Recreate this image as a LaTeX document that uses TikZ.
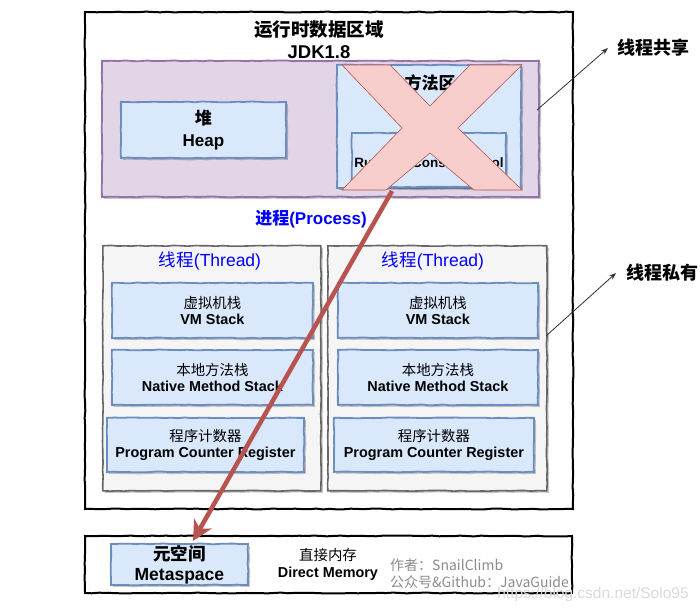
\documentclass[tikz,border=0pt]{standalone}
\usepackage{fontspec}
\setmainfont{Liberation Sans}
\newfontfamily\cjk{Noto Sans CJK SC}
\usetikzlibrary{arrows.meta,decorations.pathmorphing,shadows,calc}
\definecolor{blueF}{HTML}{DAE8FC}
\definecolor{blueD}{HTML}{6C8EBF}
\definecolor{purF}{HTML}{E1D5E7}
\definecolor{purD}{HTML}{9673A6}
\definecolor{grayF}{HTML}{F5F5F5}
\definecolor{grayD}{HTML}{666666}
\definecolor{redF}{HTML}{F8CECC}
\definecolor{redD}{HTML}{B85450}
\definecolor{procBlue}{HTML}{0000FF}
\definecolor{noteGray}{HTML}{8C8C8C}
\definecolor{markGray}{HTML}{DADADA}
\newcommand{\cn}[1]{{\cjk #1}}
\newcommand{\fs}[1]{\fontsize{#1}{#1}\selectfont}
\pgfmathsetseed{7}
\tikzset{
  sketch/.style={decorate, decoration={random steps, segment length=7pt, amplitude=0.4pt}},
  shad/.style={drop shadow={shadow xshift=2pt, shadow yshift=-2pt, opacity=0.22, fill=black}},
  frame/.style={draw=black, line width=2pt, fill=white, sketch, anchor=north west, inner sep=0pt},
  bluebox/.style={draw=blueD, fill=blueF, line width=1.8pt, sketch, shad, anchor=north west,
    inner sep=0pt, align=center, font=\fontsize{14.4}{16.5}\selectfont},
  threadbox/.style={draw=grayD, fill=grayF, line width=1.6pt, sketch, shad, anchor=north west, inner sep=0pt},
  sharedbox/.style={draw=purD, fill=purF, line width=1.8pt, sketch, shad, anchor=north west, inner sep=0pt},
  txt/.style={inner sep=0pt, align=center},
  bluetitle/.style={txt, text=procBlue, font=\bfseries\fs{17}},
  sidelabel/.style={inner sep=0pt, anchor=west, font=\bfseries\fs{18}},
  pointer/.style={draw=black!80, line width=0.8pt, -{Stealth[length=7pt,width=5pt]}},
  migrate/.style={draw=redD, line width=4.5pt, -{Stealth[length=20pt,width=20pt,inset=6pt]}},
  note/.style={inner sep=0pt, anchor=west, text=noteGray, font=\cjk\fs{14}}
}
\begin{document}
\begin{tikzpicture}[x=1pt,y=-1pt]
\useasboundingbox (0,0) rectangle (700,612);
\fill[white] (0,0) rectangle (700,612);

% outer frame
\node[frame, minimum width=488pt, minimum height=497pt] (outer) at (84,11) {};
\node[txt, font=\bfseries\fontsize{18.5}{22}\selectfont] (title) at (319,40) {\cn{\bfseries 运行时数据区域}\\JDK1.8};

% shared area
\node[sharedbox, minimum width=437pt, minimum height=136pt] (shared) at (101,60) {};
\node[bluebox, minimum width=165pt, minimum height=56pt, font=\bfseries\fontsize{17}{22}\selectfont] (heap) at (120,101) {\cn{\bfseries 堆}\\Heap};
\node[bluebox, minimum width=184pt, minimum height=123pt] (method) at (336,64) {};
\node[txt, font=\bfseries\fs{17}] (methodtxt) at (430,83) {\cn{\bfseries 方法区}};
\node[bluebox, minimum width=154pt, minimum height=54pt] (rcp) at (351,132) {};
\node[txt, font=\bfseries\fs{13.5}] (rcptxt) at (429,163) {Runtime Constant Pool};

% the cross
\filldraw[fill=redF, draw=redD, line width=0.6pt]
  (342,65) -- (390,65) -- (430,106) -- (470,65) -- (522,65) -- (458,128)
  -- (522,190) -- (474,190) -- (430,153) -- (386,190) -- (342,190) -- (402,128) -- cycle;
\coordinate (xs) at (392,191);

% process label
\node[bluetitle] (proc) at (311,219) {\cn{\bfseries 进程}(Process)};

% threads
\node[threadbox, minimum width=218pt, minimum height=245pt] (tl) at (102,245) {};
\node[threadbox, minimum width=219pt, minimum height=245pt] (tr) at (327,245) {};
\node[bluetitle, font=\fs{17.5}] (tlt) at (210,261) {\cn{线程}(Thread)};
\node[bluetitle, font=\fs{17.5}] (trt) at (433,261) {\cn{线程}(Thread)};

\node[bluebox, minimum width=201pt, minimum height=55pt] (vml) at (111,282) {\cn{虚拟机栈}\\\textbf{VM Stack}};
\node[bluebox, minimum width=201pt, minimum height=55pt] (nml) at (111,349) {\cn{本地方法栈}\\\textbf{Native Method Stack}};
\node[bluebox, minimum width=197pt, minimum height=54pt] (pcl) at (106,417) {\cn{程序计数器}\\\textbf{Program Counter Register}};

\node[bluebox, minimum width=200pt, minimum height=55pt] (vmr) at (337,282) {\cn{虚拟机栈}\\\textbf{VM Stack}};
\node[bluebox, minimum width=200pt, minimum height=55pt] (nmr) at (337,349) {\cn{本地方法栈}\\\textbf{Native Method Stack}};
\node[bluebox, minimum width=200pt, minimum height=54pt] (pcr) at (333,417) {\cn{程序计数器}\\\textbf{Program Counter Register}};

% bottom frame
\node[frame, minimum width=487pt, minimum height=57pt] (bottom) at (84,535) {};
\node[bluebox, minimum width=137pt, minimum height=41pt, font=\bfseries\fontsize{17.5}{20}\selectfont] (meta) at (110,543) {\cn{\bfseries 元空间}\\Metaspace};
\node[txt, font=\fontsize{14.4}{17}\selectfont] (direct) at (328,564.5) {\cn{直接内存}\\\textbf{Direct Memory}};
\node[note] (author) at (390,565) {作者：SnailClimb};
\node[note] (wechat) at (390,582) {公众号\&Github：JavaGuide};
\node[inner sep=0pt, text=markGray, font=\fs{15.5}] (mark) at (593,594) {https://blog.csdn.net/Solo95};

% migration arrow
\coordinate (me) at (193,541);
\draw[migrate] (xs) -- (me);

% side labels
\node[sidelabel, outer xsep=9pt] (lshare) at (608,48) {\cn{\bfseries 线程共享}};
\node[sidelabel, outer xsep=10pt] (lpriv) at (616,273) {\cn{\bfseries 线程私有}};
\coordinate (s1) at (537,110);
\coordinate (s2) at (546,336);
\draw[pointer] (s1) -- (lshare.west);
\draw[pointer] (s2) -- (lpriv.west);
\end{tikzpicture}
\end{document}
